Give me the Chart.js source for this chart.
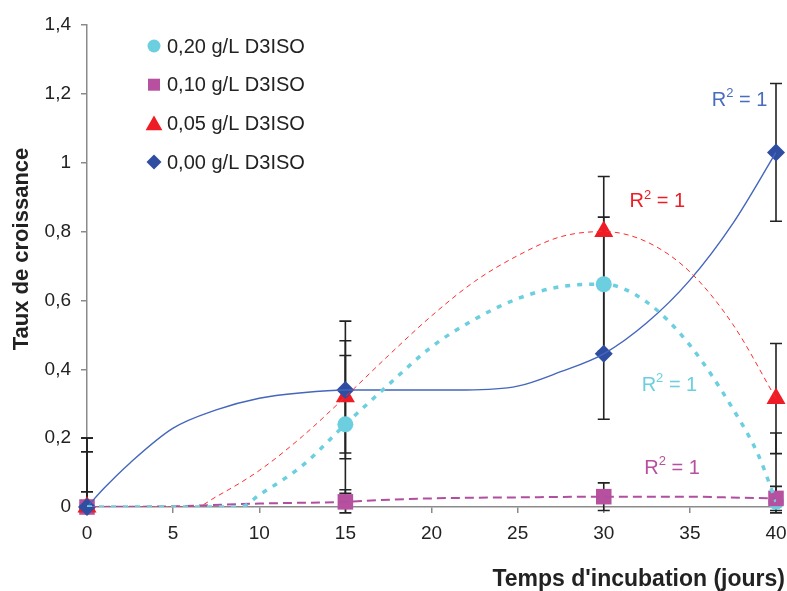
<!DOCTYPE html>
<html>
<head>
<meta charset="utf-8">
<script src="https://cdn.jsdelivr.net/npm/chart.js@4/dist/chart.umd.min.js"></script>
<style>
  html, body { margin: 0; padding: 0; background: #fff; }
  #wrap { width: 787px; height: 591px; }
</style>
</head>
<body>
<div id="wrap"><canvas id="graf"></canvas></div>
<script>
// jours de mesure
var jours = [0, 15, 30, 40];

// legende (ordre du haut vers le bas)
var series = ['0,20 g/L D3ISO', '0,10 g/L D3ISO', '0,05 g/L D3ISO', '0,00 g/L D3ISO'];

// moyennes
var taux020 = [0, 0.24, 0.647, 0.015];
var taux010 = [0, 0.015, 0.03, 0.025];
var taux005 = [0, 0.32, 0.80, 0.315];
var taux000 = [0, 0.34, 0.445, 1.03];

// ecarts (barres d'erreur)
var err020 = [0.2, 0.2, 0.195, 0.2];
var err010 = [0.044, 0.035, 0.04, 0.035];
var err005 = [0.16, 0.163, 0.16, 0.16];
var err000 = [0.2, 0.2, 0.19, 0.2];

// courbes de tendance
var tx020 = [0, 8.9, 10, 12.5, 15, 17.5, 20, 22.5, 25, 27.5, 30, 32.5, 35, 37.5, 39, 40];
var ty020 = [0, 0, 0.035, 0.12, 0.24, 0.355, 0.465, 0.545, 0.605, 0.64, 0.647, 0.595, 0.47, 0.285, 0.148, 0.015];
var tx010 = [0, 5, 10, 15, 17, 20, 25, 30, 35, 37, 40];
var ty010 = [0, 0.002, 0.01, 0.015, 0.02, 0.025, 0.028, 0.03, 0.03, 0.028, 0.025];
var tx005 = [0, 6.3, 7.5, 10, 12.5, 15, 17.5, 20, 22.5, 25, 27.5, 30, 32.5, 35, 37.5, 40];
var ty005 = [0, 0, 0.03, 0.106, 0.205, 0.32, 0.44, 0.555, 0.655, 0.73, 0.785, 0.80, 0.77, 0.683, 0.53, 0.315];
var tx000 = [0, 1, 2.5, 5, 7.5, 10, 12.5, 15, 17.5, 20, 22, 25, 27.5, 30, 32.5, 35, 37.5, 40];
var ty000 = [0, 0.055, 0.128, 0.229, 0.282, 0.316, 0.332, 0.34, 0.34, 0.34, 0.34, 0.351, 0.393, 0.445, 0.535, 0.659, 0.824, 1.03];

// position des etiquettes R2 (jours, taux)
var r2x = [32.2, 32.35, 31.5, 39.5];
var r2y = [0.354, 0.113, 0.886, 1.18];

var fonte = '"Liberation Sans", Arial, sans-serif';
var couleurs = ['#6ccfe0', '#b6509f', '#ee1c24', '#2f4ea2'];
var couleursTend = ['#6ccfe0', '#b04fa0', '#ff2a2a', '#4466bb'];
var couleursR2 = ['#6ccfe0', '#b6509f', '#ee1c24', '#4a6cc0'];
var formes = ['circle', 'rect', 'triangle', 'rectRot'];
var rayons = [8, 11, 11, 9];
var moyennes = [taux020, taux010, taux005, taux000];
var ecarts = [err020, err010, err005, err000];
var tendX = [tx020, tx010, tx005, tx000];
var tendY = [ty020, ty010, ty005, ty000];

function pts(xs, ys) {
	return xs.map(function(x, i){ return {x: x, y: ys[i]}; });
}

var datasets = [];
// tendances (dessinees par dessus)
var stylesTend = [
	{w: 3.5, dash: [5, 7]},
	{w: 2, dash: [9, 5]},
	{w: 1, dash: [5, 4]},
	{w: 1.4, dash: []}
];
for (var i = 0; i < 4; i++) {
	datasets.push({
		label: 'tend' + i,
		data: pts(tendX[i], tendY[i]),
		borderColor: couleursTend[i],
		borderWidth: stylesTend[i].w,
		borderDash: stylesTend[i].dash,
		pointRadius: 0,
		cubicInterpolationMode: 'monotone',
		fill: false
	});
}
// points : bleu au-dessus, puis rouge, magenta, cyan
[3, 2, 1, 0].forEach(function(i){
	datasets.push({
		label: series[i],
		data: pts(jours, moyennes[i]),
		showLine: false,
		pointStyle: formes[i],
		pointRadius: rayons[i],
		pointBackgroundColor: couleurs[i],
		pointBorderColor: couleurs[i],
		pointBorderWidth: 0,
		clip: false
	});
});

var barresErreur = {
	id: 'barresErreur',
	beforeDatasetsDraw: function(chart){
		var ctx = chart.ctx, xs = chart.scales.x, ys = chart.scales.y;
		ctx.save();
		ctx.strokeStyle = '#222';
		ctx.lineWidth = 1.6;
		for (var s = 0; s < 4; s++) {
			for (var j = 0; j < jours.length; j++) {
				var px = xs.getPixelForValue(jours[j]);
				var hi = ys.getPixelForValue(moyennes[s][j] + ecarts[s][j]);
				var lo = ys.getPixelForValue(Math.max(moyennes[s][j] - ecarts[s][j], -0.017));
				ctx.beginPath();
				ctx.moveTo(px, hi); ctx.lineTo(px, lo);
				ctx.moveTo(px - 6, hi); ctx.lineTo(px + 6, hi);
				ctx.moveTo(px - 6, lo); ctx.lineTo(px + 6, lo);
				ctx.stroke();
			}
		}
		ctx.restore();
	}
};

function marqueur(ctx, forme, x, y, r) {
	ctx.beginPath();
	if (forme == 'circle') {
		ctx.arc(x, y, r, 0, Math.PI * 2);
	} else if (forme == 'rect') {
		ctx.rect(x - r, y - r, 2 * r, 2 * r);
	} else if (forme == 'triangle') {
		ctx.moveTo(x, y - r);
		ctx.lineTo(x + r * 1.05, y + r * 0.85);
		ctx.lineTo(x - r * 1.05, y + r * 0.85);
		ctx.closePath();
	} else {
		ctx.moveTo(x, y - r);
		ctx.lineTo(x + r, y);
		ctx.lineTo(x, y + r);
		ctx.lineTo(x - r, y);
		ctx.closePath();
	}
	ctx.fill();
}

var textes = {
	id: 'textes',
	afterDraw: function(chart){
		var ctx = chart.ctx, xs = chart.scales.x, ys = chart.scales.y;
		ctx.save();
		// legende
		ctx.font = '20px ' + fonte;
		ctx.textBaseline = 'middle';
		var rl = [6.5, 6, 8, 7.5];
		for (var i = 0; i < 4; i++) {
			var cy = 46 + i * 38.7;
			ctx.fillStyle = couleurs[i];
			marqueur(ctx, formes[i], 154, cy, rl[i]);
			ctx.fillStyle = '#222';
			ctx.textAlign = 'left';
			ctx.fillText(series[i], 167, cy + 1);
		}
		// R2 = 1
		for (var i = 0; i < 4; i++) {
			var x = xs.getPixelForValue(r2x[i]);
			var y = ys.getPixelForValue(r2y[i]);
			ctx.font = '20px ' + fonte;
			var wR = ctx.measureText('R').width;
			var wE = ctx.measureText(' = 1').width;
			ctx.font = '13px ' + fonte;
			var w2 = ctx.measureText('2').width;
			var total = wR + w2 + wE;
			var x0 = i == 3 ? x - total : x;
			ctx.fillStyle = couleursR2[i];
			ctx.textAlign = 'left';
			ctx.font = '20px ' + fonte;
			ctx.fillText('R', x0, y);
			ctx.font = '13px ' + fonte;
			ctx.fillText('2', x0 + wR, y - 7);
			ctx.font = '20px ' + fonte;
			ctx.fillText(' = 1', x0 + wR + w2, y);
		}
		// titres des axes
		ctx.fillStyle = '#222';
		ctx.font = 'bold 23px ' + fonte;
		ctx.textAlign = 'right';
		ctx.fillText("Temps d'incubation (jours)", 785, 580);
		ctx.font = 'bold 22px ' + fonte;
		ctx.translate(22, 249);
		ctx.rotate(-Math.PI / 2);
		ctx.textAlign = 'center';
		ctx.fillText('Taux de croissance', 0, 0);
		ctx.restore();
	}
};

function virgule(v) {
	return String(+v.toFixed(1)).replace('.', ',');
}

new Chart(document.getElementById('graf'), {
	type: 'line',
	data: { datasets: datasets },
	options: {
		responsive: true,
		maintainAspectRatio: false,
		animation: false,
		layout: { padding: { top: 25, right: 10, left: 0, bottom: 0 } },
		plugins: { legend: { display: false }, tooltip: { enabled: false } },
		scales: {
			x: {
				type: 'linear', min: 0, max: 40,
				afterFit: function(s){ s.height = 84; s.paddingRight = 0; s.paddingLeft = 0; },
				border: { color: '#8a8a8a', width: 1.5 },
				grid: { drawOnChartArea: false, color: '#8a8a8a', tickLength: 6, lineWidth: 1.5 },
				ticks: { stepSize: 5, color: '#222', padding: 9, font: { family: fonte, size: 19 }, maxRotation: 0 }
			},
			y: {
				min: 0, max: 1.4,
				afterFit: function(s){ s.width = 87; s.paddingTop = 0; s.paddingBottom = 0; },
				border: { color: '#8a8a8a', width: 1.5 },
				grid: { drawOnChartArea: false, color: '#8a8a8a', tickLength: 6, lineWidth: 1.5 },
				ticks: { stepSize: 0.2, color: '#222', padding: 10, font: { family: fonte, size: 19 }, callback: virgule }
			}
		}
	},
	plugins: [barresErreur, textes]
});
</script>
</body>
</html>
